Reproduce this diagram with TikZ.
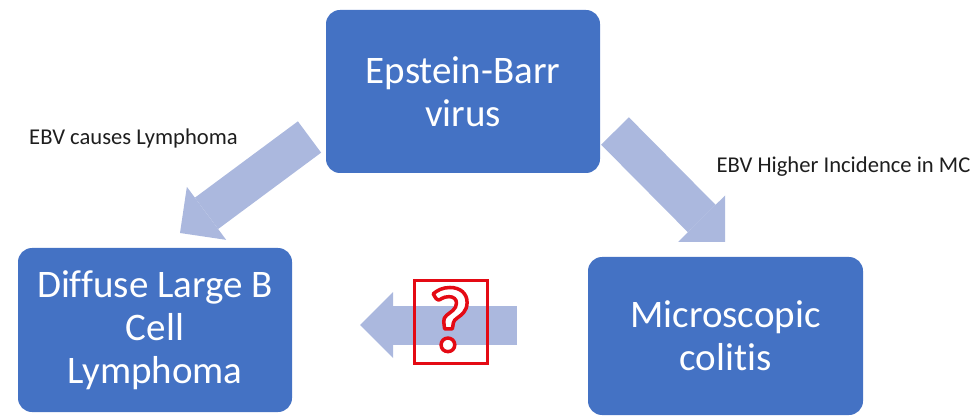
\documentclass[tikz,border=0pt]{standalone}
\usepackage{fontspec}
\setmainfont{Carlito}[Ligatures=NoCommon]
\usetikzlibrary{arrows.meta}

\definecolor{boxblue}{RGB}{68,114,196}
\definecolor{arrowblue}{RGB}{171,184,222}
\definecolor{qred}{RGB}{228,10,20}
\definecolor{notegray}{RGB}{30,30,30}

\tikzset{
  bluebox/.style={fill=boxblue, rounded corners=14pt, text=white, align=center,
    inner sep=0pt, font=\fontsize{39}{43}\selectfont},
  fatarrow/.style={arrowblue, line width=39pt,
    -{Triangle[width=66pt,length=33pt,line width=0pt]}},
  note/.style={text=notegray, font=\fontsize{22.6}{26}\selectfont}
}
% outlined glyph: white fill, red stroke
\newcommand{\hollowred}[1]{\textcolor{white}{\special{pdf:literal direct 2 Tr 3.5 w 1 j 0.894 0.039 0.078 RG}#1\special{pdf:literal direct 0 Tr 1 w 0 j}}}

\begin{document}
\begin{tikzpicture}[x=1pt,y=1pt]
        \useasboundingbox (0,0) rectangle (974,418);

        % the three boxes
        \node[bluebox, minimum width=274pt, minimum height=163pt] (ebv) at (463,326.5) {Epstein-Barr\\virus};
        \node[bluebox, minimum width=274pt, minimum height=164pt] (dlbcl) at (155,88) {Diffuse Large B\\Cell\\Lymphoma};
        \node[bluebox, minimum width=275pt, minimum height=158pt] (mc) at (725.5,82) {Microscopic\\colitis};

        % arrow ends
        \coordinate (ltail) at (309.5,281);
        \coordinate (ltip) at (180,185);
        \coordinate (rtail) at (615,287);
        \coordinate (rtip) at (725,176);
        \coordinate (htail) at (517,93);
        \coordinate (htip) at (360,93);

        \draw[fatarrow] (ltail) -- (ltip);
        \draw[fatarrow] (rtail) -- (rtip);
        \draw[fatarrow] (htail) -- (htip);

        % labels
        \node[note] (causes) at (133.5,280) {EBV causes Lymphoma};
        \node[note] (incidence) at (843.5,251) {EBV Higher Incidence in MC};

        % question box
        \node[draw=qred, line width=3pt, minimum width=73pt, minimum height=83pt, inner sep=0pt] (qbox) at (450.5,96.5) {};
        \node[anchor=base, inner sep=0pt, font=\fontsize{92}{92}\selectfont\bfseries] (qmark) at (450,67) {\hollowred{?}};
\end{tikzpicture}
\end{document}
